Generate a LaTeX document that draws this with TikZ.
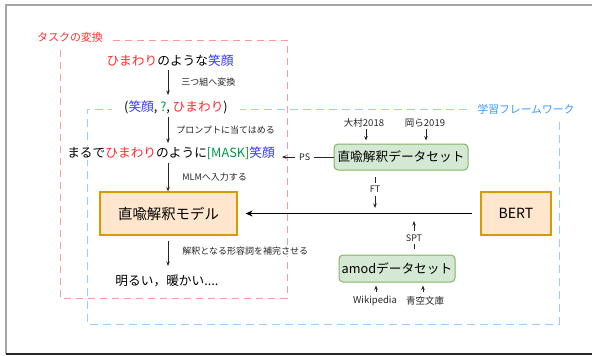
\documentclass[tikz,border=0pt]{standalone}
\usepackage{fontspec}
\setmainfont{Noto Sans CJK JP}
\usetikzlibrary{arrows.meta}
\definecolor{myred}{HTML}{FF2A2A}
\definecolor{myblue}{HTML}{3333FF}
\definecolor{mygreen}{HTML}{00994C}
\definecolor{redline}{HTML}{FF9999}
\definecolor{blueline}{HTML}{99CCFF}
\definecolor{redlabel}{HTML}{FF3333}
\definecolor{bluelabel}{HTML}{3399FF}
\definecolor{orfill}{HTML}{FFE6CC}
\definecolor{ordraw}{HTML}{D79B00}
\definecolor{grfill}{HTML}{D5E8D4}
\definecolor{grdraw}{HTML}{82B366}
\tikzset{
  maintext/.style={font=\fontsize{12.7}{14}\selectfont, fill=white, inner sep=1pt},
  lbl/.style={font=\fontsize{9}{10}\selectfont, fill=white, inner sep=1pt, text=black!85},
  smalltext/.style={font=\fontsize{9.5}{10}\selectfont, inner sep=1pt, text=black!85},
  orangebox/.style={draw=ordraw, fill=orfill, line width=1.2pt, inner sep=0pt},
  greenbox/.style={draw=grdraw, fill=grfill, line width=1pt, rounded corners=4pt, inner sep=0pt, font=\fontsize{12.7}{14}\selectfont},
  arr/.style={-{Stealth[length=4.5pt,width=3.5pt]}, line width=0.7pt, black!85},
  bigarr/.style={-{Stealth[length=7pt,width=6pt]}, line width=1.1pt, black},
  reddash/.style={draw=redline, line width=1pt, dash pattern=on 7pt off 5pt},
  bluedash/.style={draw=blueline, line width=1pt, dash pattern=on 8pt off 5pt},
}
\begin{document}
\begin{tikzpicture}[x=1pt,y=-1pt]
\useasboundingbox (0,0) rectangle (592,356);
% outer frame
\draw[gray!70, line width=1.5pt] (6,354) -- (6,5) -- (592,5);
\draw[black!85, line width=1.5pt] (6,354) -- (592,354);
% dashed groups
\draw[reddash] (113,40) -- (287,40) -- (287,298) -- (60,298) -- (60,45);
\node[text=redlabel, font=\fontsize{11}{12}\selectfont, inner sep=0pt] (redlab) at (70,37) {タスクの変換};
\draw[bluedash] (467,109) -- (87,109) -- (87,324) -- (559,324) -- (559,118);
\node[text=bluelabel, font=\fontsize{10.8}{12}\selectfont, inner sep=0pt] (bluelab) at (526,109) {学習フレームワーク};
% left column
\node[maintext] (t1) at (170,61) {\textcolor{myred}{ひまわり}のような\textcolor{myblue}{笑顔}};
\node[maintext, inner xsep=12pt] (t2) at (176,107) {(\textcolor{myblue}{笑顔}, \textcolor{mygreen}{?}, \textcolor{myred}{ひまわり})};
\node[maintext] (t3) at (171,153) {まるで\textcolor{myred}{ひまわり}のように\textcolor{mygreen}{[MASK]}\textcolor{myblue}{笑顔}};
\node[orangebox, minimum width=137pt, minimum height=43pt, font=\fontsize{14.4}{16}\selectfont] (model) at (168.5,213.5) {直喩解釈モデル};
\node[maintext] (ans) at (167,281) {明るい，暖かい....};
\coordinate (a1s) at (168,70); \coordinate (a1e) at (168,95);
\coordinate (a2s) at (168,117); \coordinate (a2e) at (168,143);
\coordinate (a3s) at (168,163);
\coordinate (a4e) at (168,266);
\draw[arr] (a1s) -- (a1e) node[lbl, midway, anchor=west, xshift=12pt] {三つ組へ変換};
\draw[arr] (a2s) -- (a2e) node[lbl, midway, anchor=west, xshift=7pt] {プロンプトに当てはめる};
\draw[arr] (a3s) -- (model.north -| a3s) node[lbl, midway, anchor=west, xshift=13pt] {MLMへ入力する};
\draw[arr, shorten <=5pt] (model.south -| a4e) -- (a4e) node[lbl, midway, anchor=west, xshift=13pt] {解釈となる形容詞を補完させる};
% right column
\node[greenbox, minimum width=134pt, minimum height=26pt] (data) at (401,157) {直喩解釈データセット};
\node[orangebox, minimum width=70pt, minimum height=43pt, font=\fontsize{14}{16}\selectfont] (bert) at (516,213.5) {BERT};
\node[greenbox, minimum width=116pt, minimum height=27pt] (amod) at (397,268.5) {amodデータセット};
\node[smalltext] (omura) at (364,123) {大村2018};
\node[smalltext] (oka) at (425,123) {岡ら2019};
\node[smalltext] (wiki) at (375,301) {Wikipedia};
\node[smalltext] (aozora) at (425,301) {青空文庫};
\coordinate (om) at (366,129); \coordinate (ok) at (426,129);
\draw[arr, shorten >=3pt] (om) -- (om |- data.north);
\draw[arr, shorten >=3pt] (ok) -- (ok |- data.north);
\coordinate (wk) at (376,292); \coordinate (ao) at (423,292);
\draw[arr, shorten >=3pt] (wk) -- (wk |- amod.south);
\draw[arr, shorten >=3pt] (ao) -- (ao |- amod.south);
\draw[arr, shorten >=6pt] (data.west) -- (data.west -| t3.east) node[lbl, midway, inner xsep=4pt] {PS};
\coordinate (ftend) at (375,208);
\draw[arr, shorten <=6pt] (data.south -| ftend) -- (ftend) node[lbl, midway, inner ysep=3pt] {FT};
\coordinate (sptend) at (414,221);
\draw[arr, shorten <=6pt] (amod.north -| sptend) -- (sptend) node[lbl, midway, inner ysep=3pt] {SPT};
\draw[bigarr, shorten <=8pt, shorten >=8pt] (bert.west) -- (model.east);
\end{tikzpicture}
\end{document}
